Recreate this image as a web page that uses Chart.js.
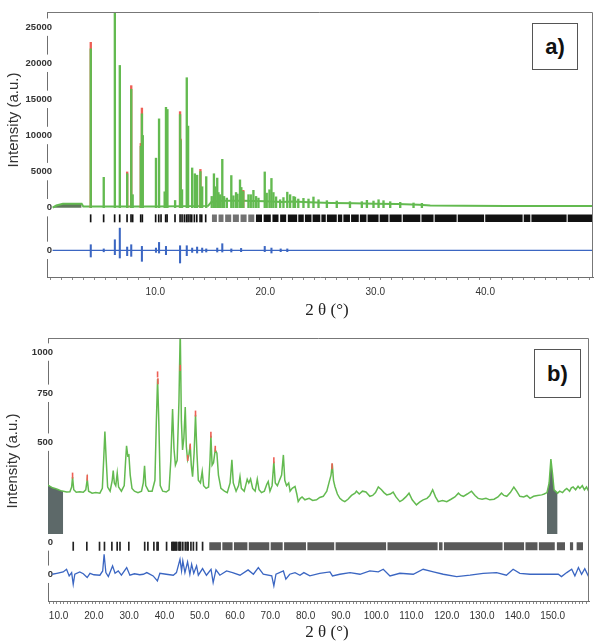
<!DOCTYPE html>
<html lang="en">
<head>
<meta charset="UTF-8">
<title>Rietveld refinement plots</title>
<script src="https://cdn.jsdelivr.net/npm/chart.js"></script>
<style>
  body { margin: 0; background: #fff; }
  .wrap { position: relative; width: 596px; height: 644px; overflow: hidden; }
  .panel { position: absolute; left: 0; width: 596px; }
  .tag { position: absolute; border: 1px solid #555; background: #fff; color: #111;
         font: bold 22px "Liberation Sans", Arial, sans-serif; display: flex;
         align-items: center; justify-content: center; box-sizing: border-box; }
  .ytitle { position: absolute; white-space: nowrap; color: #333;
            font: 15px "Liberation Sans", Arial, sans-serif;
            transform: translate(-50%, -50%) rotate(-90deg); }
  .xtitle { position: absolute; white-space: nowrap; color: #222;
            font: 17px "Liberation Serif", "Times New Roman", serif;
            transform: translate(-50%, -50%); }
</style>
</head>
<body>
<div class="wrap">
  <div class="panel" style="top:0;height:320px"><canvas id="chartA" width="596" height="320"></canvas></div>
  <div class="panel" style="top:320px;height:324px"><canvas id="chartB" width="596" height="324"></canvas></div>
  <div class="tag" style="left:532px;top:23px;width:46px;height:47px">a)</div>
  <div class="tag" style="left:534px;top:349px;width:47px;height:49px">b)</div>
  <div class="ytitle" style="left:12px;top:120px">Intensity (a.u.)</div>
  <div class="ytitle" style="left:11px;top:461px">Intensity (a.u.)</div>
  <div class="xtitle" style="left:327px;top:310px">2 θ (°)</div>
  <div class="xtitle" style="left:327px;top:632px">2 θ (°)</div>
</div>
<script>
// ---------- panel a) : 2θ 0-50°, linear intensity ----------
const aXMajor = [10, 20, 30, 40];
const aYTickVals = [0, 5000, 10000, 15000, 20000, 25000];
const aDiffZero = -5910;          // offset of the difference curve
const aHklRange = [-1980, -970];  // reflection marker row

// calculated background / baseline
const aBgX = [0.66, 1.0, 1.6, 3.3, 3.45, 10.0, 14.8, 15.1, 16.0, 18.0, 20.0, 21.5, 22.5, 24.0, 26.0, 28.0, 30.0, 32.0, 34.0, 35.0, 38.0, 42.0, 46.0, 49.8];
const aBgY = [0, 300, 550, 550, 150, 160, 250, 800, 950, 950, 900, 800, 850, 750, 650, 600, 550, 500, 400, 300, 260, 240, 250, 250];

// calculated peak heights
const aPeakPos = [4.13, 5.31, 6.32, 6.77, 7.44, 7.81, 7.94, 8.68, 8.78, 8.86, 10.06, 10.34, 10.85, 10.97, 11.10, 11.80, 12.25, 12.30, 12.43, 12.86,
  12.98, 13.35, 13.59, 13.80, 14.10, 14.26, 14.63, 15.13, 15.33, 15.43, 15.63, 15.74, 15.89, 16.09, 16.25, 16.50, 16.91, 17.10, 17.34, 17.47,
  17.70, 17.82, 18.00, 18.47, 18.68, 18.92, 19.16, 19.38, 19.95, 20.13, 20.38, 20.56, 20.74, 20.98, 21.35, 21.65, 22.00, 22.26, 22.57, 22.70,
  23.00, 23.47, 23.93, 24.38, 24.84, 25.60, 26.50, 27.70, 28.78, 29.24, 29.84, 30.30, 30.75, 31.36, 32.27, 33.48, 34.24];
const aPeakCalc = [22000, 4200, 29000, 19700, 4700, 16400, 1800, 8500, 13000, 10000, 6860, 12300, 2200, 13900, 13600, 1000, 12900, 9300, 2500, 18000,
  11300, 5500, 4700, 4500, 5000, 2900, 4300, 1560, 4700, 2900, 4100, 2100, 1800, 6700, 1560, 1330, 4450, 1650, 2100, 1890,
  3850, 2800, 2250, 1800, 1800, 2400, 1560, 1330, 4950, 2020, 2480, 4050, 2100, 1500, 1100, 1400, 2150, 1800, 1550, 1470,
  1200, 1290, 1200, 1480, 1100, 970, 920, 830, 830, 1020, 920, 1100, 970, 830, 740, 650, 600];

// observed tops that stick out above the calculated curve
const aObsPos = [4.13, 7.44, 7.81, 8.68, 8.78, 12.25, 12.30, 14.10, 18.00];
const aObsVal = [22900, 4950, 16900, 8900, 13800, 13300, 9500, 5300, 2400];

// reflection markers
const aHklPos = [4.12, 5.30, 6.30, 6.76, 7.43, 7.79, 7.94, 8.67, 8.82, 10.03, 10.31, 10.52, 10.94, 11.07, 11.79, 12.25, 12.43, 12.64, 12.83, 12.98,
  13.16, 13.31, 13.55, 13.77, 14.07, 14.22, 14.58];
const aBandsLight = [[15.15, 15.6], [15.75, 16.2], [16.35, 16.9], [17.05, 17.6], [17.75, 18.3], [18.45, 19.0]];
const aBandsDark = [[19.15, 19.7], [19.85, 20.5], [20.65, 21.2], [21.35, 21.9], [22.05, 22.9], [23.0, 23.5], [23.6, 24.2], [24.3, 25.0],
  [25.1, 25.5], [25.6, 26.5], [26.6, 27.0], [27.1, 27.7], [27.8, 28.5], [28.6, 29.2], [29.3, 30.3], [30.4, 31.2], [31.3, 32.4],
  [32.5, 34.1], [34.2, 35.3], [35.4, 37.4], [37.5, 39.9], [40.0, 43.4], [43.5, 44.1], [44.2, 47.4], [47.5, 49.8]];

// difference spikes (obs - calc)
const aDiffPos = [4.13, 5.31, 6.32, 6.77, 7.44, 7.81, 8.78, 10.06, 10.34, 10.97, 12.25, 12.86, 13.35, 13.80, 14.26, 14.63, 15.63, 16.09, 16.91, 17.80, 19.95, 20.56, 21.40, 22.00];
const aDiffHi = [780, 200, 1470, 3080, 460, 780, 550, 320, 1100, 550, 640, 640, 320, 460, 320, 200, 320, 920, 200, 270, 550, 320, 200, 200];
const aDiffLo = [-920, -200, -600, -1060, -740, -830, -1520, -280, -370, -600, -1750, -740, -280, -370, -280, -230, -230, -230, -230, -180, -180, -370, -180, -180];
const aDiffLineX = [0.66, 49.8];
const aExcl = [[0.66, 3.3]];

// ---------- panel b) : 2θ 7-160°, square-root intensity ----------
const bXMajor = [10, 20, 30, 40, 50, 60, 70, 80, 90, 100, 110, 120, 130, 140, 150];
const bYTickVals = [500, 750, 1000];
const bHklZero = 12.1;    // in sqrt units
const bHklRange = [11.23, 12.09];
const bDiffZero = 8.78;
const bExclLevel = 167;   // counts, bottom of excluded blocks

const bX = [7.0, 7.5, 8.3, 9.0, 9.8, 10.6, 11.3, 12.3, 13.2, 13.7, 13.96, 14.3, 15.0, 16.0, 17.0, 17.7, 18.12, 18.5, 19.5, 20.5,
  21.7, 22.4, 22.8, 23.12, 23.5, 23.9, 24.6, 25.2, 25.48, 25.8, 26.2, 26.62, 27.0, 27.8, 28.6, 29.0, 29.26, 29.6, 29.92, 30.3,
  30.8, 31.5, 32.5, 33.5, 34.0, 34.36, 34.7, 35.5, 36.5, 37.3, 37.7, 38.05, 38.4, 38.8, 39.5, 40.5, 41.3, 41.8, 42.3, 42.7,
  43.1, 43.6, 44.1, 44.47, 44.8, 45.13, 45.5, 45.89, 46.2, 46.55, 46.9, 47.3, 47.6, 47.97, 48.4, 48.8, 49.2, 49.6, 50.2, 50.7,
  51.1, 51.8, 52.5, 52.9, 53.16, 53.5, 53.9, 54.39, 54.86, 55.3, 56.0, 57.0, 57.8, 58.6, 59.11, 59.5, 60.3, 61.0, 61.4, 61.8,
  62.6, 63.0, 63.45, 63.9, 64.4, 65.0, 65.7, 66.3, 66.8, 67.5, 68.3, 69.0, 69.4, 69.9, 70.5, 71.0, 71.4, 72.0, 72.6, 73.2,
  73.7, 74.1, 74.6, 75.2, 75.6, 76.2, 77.0, 77.5, 77.9, 78.5, 79.0, 79.8, 81.0, 82.0, 83.1, 84.0, 85.0, 86.0, 86.7, 87.2,
  87.55, 87.9, 88.3, 89.0, 89.7, 90.4, 91.1, 92.0, 93.0, 94.0, 94.4, 95.2, 96.1, 97.1, 98.2, 99.0, 99.8, 100.6, 101.5, 102.2,
  103.0, 104.0, 104.8, 105.6, 106.7, 107.5, 108.4, 109.3, 110.2, 111.4, 112.3, 113.3, 114.4, 115.2, 116.0, 116.8, 117.6, 118.8, 120.0, 121.2,
  122.3, 123.3, 124.0, 124.7, 125.8, 127.0, 128.0, 128.9, 130.0, 131.1, 132.2, 133.4, 134.5, 135.5, 136.2, 137.0, 138.0, 139.0, 139.8, 140.7,
  141.8, 142.7, 143.6, 144.6, 145.7, 146.9, 147.6, 148.4, 149.0, 149.5, 150.0, 150.4, 151.4, 152.0, 152.8, 153.5, 154.0, 154.8, 155.3, 155.8,
  156.5, 157.2, 157.7, 158.4, 159.0, 159.6, 160.3];
const bCalc = [322, 318, 312, 310, 306, 302, 300, 297, 298, 315, 352, 305, 296, 298, 296, 305, 344, 300, 293, 295,
  293, 310, 430, 550, 420, 315, 300, 340, 378, 330, 320, 368, 315, 300, 320, 420, 483, 440, 443, 360,
  310, 300, 295, 300, 330, 397, 320, 300, 300, 340, 600, 833, 600, 320, 300, 297, 305, 420, 664, 470,
  400, 420, 700, 1150, 600, 465, 520, 674, 480, 422, 440, 488, 400, 354, 450, 634, 450, 340, 330, 374,
  320, 310, 315, 420, 530, 400, 410, 465, 451, 360, 310, 300, 295, 330, 422, 330, 300, 320, 354, 310,
  300, 320, 344, 330, 345, 310, 300, 344, 305, 295, 300, 325, 335, 300, 320, 415, 330, 320, 340, 360,
  443, 340, 320, 330, 300, 310, 317, 290, 264, 275, 280, 270, 275, 268, 270, 278, 282, 300, 335, 360,
  405, 340, 317, 290, 275, 268, 264, 272, 285, 293, 300, 290, 300, 297, 282, 285, 295, 315, 305, 295,
  287, 290, 297, 280, 264, 270, 280, 293, 270, 253, 262, 270, 275, 285, 305, 280, 264, 268, 264, 272,
  280, 293, 285, 282, 290, 300, 285, 275, 272, 275, 270, 272, 280, 293, 285, 282, 295, 315, 300, 282,
  280, 285, 275, 282, 285, 287, 290, 295, 330, 425, 360, 305, 293, 300, 295, 305, 310, 300, 312, 315,
  305, 318, 310, 320, 305, 315, 297];

const bObsPos = [13.96, 18.12, 38.05, 38.15, 44.47, 46.6, 47.3, 48.8, 53.16, 54.4, 71.0, 87.5];
const bObsVal = [358, 350, 860, 820, 900, 430, 480, 640, 535, 470, 420, 395];

const bHklPos = [14.15, 18.0, 21.6, 23.0, 25.1, 26.6, 27.4, 29.9, 34.4, 35.3, 37.0, 37.9, 38.2, 40.6, 42.1, 42.4, 42.6, 42.9, 43.2, 43.5,
  44.1, 44.3, 44.6, 45.2, 45.9, 46.4, 46.7, 47.5, 48.2, 49.1, 50.8];
const bBands = [[52.7, 56.0], [56.4, 59.3], [59.7, 63.5], [63.9, 69.7], [70.1, 73.5], [73.9, 80.1], [80.5, 88.1], [88.5, 102.8],
  [103.2, 117.4], [117.8, 118.8], [119.2, 135.8], [136.2, 141.9], [142.3, 145.7], [146.1, 150.6], [151.2, 153.5], [154.9, 155.8], [156.8, 158.6]];

const bDiffX = [8.2, 9.5, 11.3, 12.26, 13.0, 13.7, 14.15, 14.6, 16.0, 17.0, 18.1, 18.9, 20.0, 21.7, 22.5, 22.9, 23.4, 24.1, 25.3, 26.0,
  26.9, 27.8, 29.3, 30.2, 31.5, 33.0, 34.0, 35.0, 36.8, 38.0, 38.7, 40.5, 42.5, 43.4, 44.4, 44.85, 45.2, 45.8, 46.55, 47.2,
  47.7, 48.3, 49.1, 49.6, 50.8, 51.9, 53.2, 53.8, 54.6, 55.7, 57.6, 59.3, 61.4, 63.7, 65.2, 66.6, 68.0, 70.4, 71.0, 71.6,
  73.7, 74.4, 75.5, 77.0, 78.4, 79.5, 81.2, 84.0, 86.9, 87.6, 89.7, 92.6, 95.4, 98.2, 100.6, 102.0, 103.9, 106.7, 110.5, 113.3,
  116.2, 119.0, 122.8, 126.6, 130.3, 134.1, 136.9, 138.8, 140.7, 143.6, 147.8, 151.6, 152.5, 154.0, 155.4, 156.3, 157.3, 158.2, 159.1, 160.3];
const bDiffY = [0, 0.1, 0.24, 0.51, -0.17, 0.17, -1.03, 0, 0.24, 0.05, -0.34, 0.1, -0.05, -0.1, 0.34, 2.06, 0.17, -0.24, 0.86, 0.1,
  0.34, -0.1, 0.69, -0.1, 0.05, -0.05, 0, 0.17, -0.17, -0.69, 0.1, 0, -0.1, 0.17, 1.54, 0.34, 1.37, 0.17, 1.27, 0,
  1.03, 0.1, 0.86, -0.1, 0.58, -0.1, 0.51, -0.86, 0.45, -0.1, 0.34, 0.17, -0.1, 0.45, 0, 0.69, 0, -0.17, -1.2, 0,
  0.34, -0.51, 0, 0.17, -0.1, 0.17, -0.17, 0.1, 0.24, -0.17, 0, 0.17, 0, 0.34, 0.24, 0.51, -0.17, 0.1, 0, 0.51,
  0.24, 0, -0.24, -0.1, 0.1, 0.17, -0.1, 0.51, 0.1, 0, 0, 0, -0.24, 0.17, 0.51, -0.17, 0.69, 0, 0.58, -0.34];
const bExcl = [[7.0, 11.3], [148.4, 151.4]];

// ---------- helpers ----------
const GREEN = '#63ba50', RED = '#ee5f55', BLUE = '#3b66c2', GREY = '#5d6969';
const FONT = '"Liberation Sans", Arial, sans-serif';
const Y_FONT = {family: FONT, size: 9.5, weight: 'bold'};

const pts = (xs, ys, f = v => v) => xs.map((x, i) => ({x, y: f(ys[i])}));
function bandPts(pairs, y) {
  const out = [];
  pairs.forEach(([s, e]) => out.push({x: s, y}, {x: e, y}, {x: e, y: null}));
  return out;
}
const measure = document.createElement('canvas').getContext('2d');
function widest(strs) {
  measure.font = `bold ${Y_FONT.size}px ${FONT}`;
  return Math.max(...strs.map(s => measure.measureText(s).width));
}

function xAxis(min, max, majors) {
  return {
    type: 'linear', min, max, offset: false,
    afterBuildTicks: s => {
      const t = [];
      for (let v = Math.ceil(min); v <= max; v++) t.push({value: v});
      s.ticks = t;
    },
    afterFit: s => { s.height = 43; },
    grid: {display: true, drawOnChartArea: false, drawTicks: true, tickLength: 3, color: '#8a8a8a'},
    border: {display: true, color: '#6f6f6f'},
    ticks: {autoSkip: false, maxRotation: 0, padding: 6, color: '#333',
      font: {family: FONT, size: 10},
      callback: v => majors.includes(v) ? v.toFixed(1) : ''}
  };
}

// labels sit across the axis line (right edge 5px inside the plot), with a white backdrop
function yAxis(min, max, labels, width) {
  const w = widest(labels.map(l => l[1]));
  return {
    type: 'linear', min, max,
    afterBuildTicks: s => { s.ticks = labels.map(l => ({value: l[0]})); },
    afterFit: s => { s.width = width; },
    grid: {display: false, drawTicks: false},
    border: {display: true, color: '#6f6f6f'},
    ticks: {autoSkip: false, mirror: true, crossAlign: 'far', padding: 5 - w, color: '#333',
      font: Y_FONT,
      showLabelBackdrop: true, backdropColor: '#fff',
      backdropPadding: {top: 3, bottom: 3, left: 1, right: 1},
      callback: v => { const l = labels.find(p => Math.abs(p[0] - v) < 1e-6); return l ? l[1] : ''; }}
  };
}

const framePlugin = {
  id: 'frame',
  afterDatasetsDraw(chart) {
    const {ctx, chartArea: a} = chart;
    ctx.save();
    ctx.strokeStyle = '#777';
    ctx.lineWidth = 1;
    ctx.beginPath();
    ctx.moveTo(a.left, a.top + 0.5);
    ctx.lineTo(a.right - 0.5, a.top + 0.5);
    ctx.lineTo(a.right - 0.5, a.bottom);
    ctx.stroke();
    ctx.restore();
  }
};

const baseOpts = {
  responsive: false, animation: false, events: [],
  plugins: {legend: {display: false}, tooltip: {enabled: false}}
};

// ---------- chart a ----------
const aYLabels = aYTickVals.map(v => [v, String(v)]).concat([[aDiffZero, '0']]);
new Chart(document.getElementById('chartA'), {
  type: 'line',
  data: {
    datasets: [
      {type: 'bar', data: pts(aPeakPos, aPeakCalc), backgroundColor: GREEN, barThickness: 1.7, grouped: false, borderWidth: 0},
      {type: 'bar', data: pts(aObsPos, aObsVal), backgroundColor: RED, barThickness: 1.7, grouped: false, borderWidth: 0},
      {data: pts(aBgX, aBgY), borderColor: GREEN, borderWidth: 2, pointRadius: 0, tension: 0},
      ...aExcl.map(([s, e]) => ({
        data: pts(aBgX, aBgY).filter(p => p.x >= s && p.x <= e),
        borderWidth: 0, pointRadius: 0, backgroundColor: '#5f7a5a', fill: {value: 0}
      })),
      {type: 'bar', data: aHklPos.map(x => ({x, y: aHklRange})), backgroundColor: '#111', barThickness: 1, grouped: false, borderWidth: 0},
      {data: bandPts(aBandsLight, (aHklRange[0] + aHklRange[1]) / 2), borderColor: 'rgba(20,20,20,0.6)', borderWidth: 7.5, borderCapStyle: 'butt', pointRadius: 0, spanGaps: false},
      {data: bandPts(aBandsDark, (aHklRange[0] + aHklRange[1]) / 2), borderColor: '#111', borderWidth: 7.5, borderCapStyle: 'butt', pointRadius: 0, spanGaps: false},
      {type: 'bar', data: aDiffPos.map((x, i) => ({x, y: [aDiffZero + aDiffLo[i], aDiffZero + aDiffHi[i]]})), backgroundColor: BLUE, barThickness: 1.4, grouped: false, borderWidth: 0},
      {data: aDiffLineX.map(x => ({x, y: aDiffZero})), borderColor: BLUE, borderWidth: 1.4, pointRadius: 0}
    ]
  },
  options: {
    ...baseOpts,
    layout: {padding: {top: 12, right: 3, bottom: 0, left: 0}},
    scales: {x: xAxis(0.15, 49.8, aXMajor), y: yAxis(-9600, 27100, aYLabels, 47)}
  },
  plugins: [framePlugin]
});

// ---------- chart b ----------
const bYLabels = bYTickVals.map(v => [Math.sqrt(v), String(v)]).concat([[bHklZero, '0'], [bDiffZero, '0']]);
const bHklMid = (bHklRange[0] + bHklRange[1]) / 2;
new Chart(document.getElementById('chartB'), {
  type: 'line',
  data: {
    datasets: [
      {data: pts(bObsPos, bObsVal, Math.sqrt), showLine: false, pointStyle: 'line', rotation: 90, pointRadius: 3, borderColor: RED, borderWidth: 1.6},
      {data: pts(bX, bCalc, Math.sqrt), borderColor: GREEN, borderWidth: 1.5, pointRadius: 0, tension: 0},
      ...bExcl.map(([s, e]) => ({
        data: pts(bX, bCalc, Math.sqrt).filter(p => p.x >= s && p.x <= e),
        borderWidth: 0, pointRadius: 0, backgroundColor: GREY, fill: {value: Math.sqrt(bExclLevel)}
      })),
      {type: 'bar', data: bHklPos.map(x => ({x, y: bHklRange})), backgroundColor: '#222', barThickness: 1, grouped: false, borderWidth: 0},
      {data: bandPts(bBands, bHklMid), borderColor: 'rgba(25,25,25,0.72)', borderWidth: 8, borderCapStyle: 'butt', pointRadius: 0, spanGaps: false},
      {data: pts(bDiffX, bDiffY, v => bDiffZero + v), borderColor: BLUE, borderWidth: 1.3, pointRadius: 0, tension: 0}
    ]
  },
  options: {
    ...baseOpts,
    layout: {padding: {top: 18, right: 7, bottom: 0, left: 0}},
    scales: {x: xAxis(7.0, 160.3, bXMajor), y: yAxis(6.03, 33.07, bYLabels, 48)}
  },
  plugins: [framePlugin]
});
</script>
</body>
</html>
